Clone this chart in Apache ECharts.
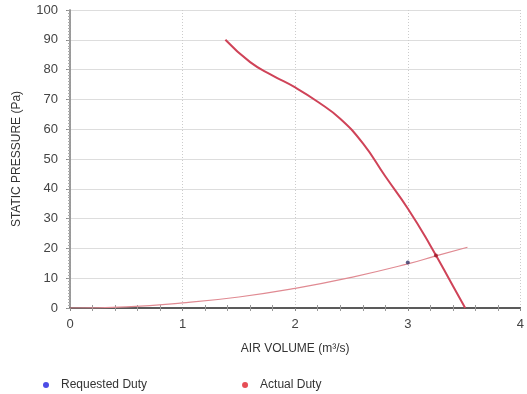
<!DOCTYPE html>
<html lang="en">
<head>
  <meta charset="UTF-8">
  <title>Fan curve</title>
  <script src="https://cdn.jsdelivr.net/npm/echarts@6/dist/echarts.min.js"></script>
  <style>
    html, body { margin: 0; padding: 0; background: #fff; }
    #chart { width: 527px; height: 394px; }
  </style>
</head>
<body>
  <div id="chart"></div>
  <script type="text/javascript">
    // fan curve: air volume (m3/s) vs static pressure (Pa)
    const fanVolume   = [1.38, 1.6, 1.8, 2.0, 2.2, 2.4, 2.6, 2.8, 3.0, 3.2, 3.4, 3.51];
    const fanPressure = [90, 82.5, 78, 74, 69.2, 63.5, 55.3, 44.2, 33.4, 21, 7.5, 0];

    // system resistance curve
    const sysVolume   = [0, 0.5, 1.0, 1.5, 2.0, 2.5, 3.0, 3.25, 3.53];
    const sysPressure = [0, 0.4, 1.7, 3.7, 6.6, 10.3, 14.8, 17.5, 20.4];

    const requestedDuty = [3.0, 15.3];
    const actualDuty = [3.25, 17.6];

    const xTicks = [0, 4, 1];   // min, max, interval
    const yTicks = [0, 100, 10];

    const chart = echarts.init(document.getElementById('chart'));

    const labelFont = { fontFamily: 'Liberation Sans, Arial, sans-serif', color: '#444', fontSize: 13 };

    const option = {
      animation: false,
      grid: { left: 70, right: 4, top: 10, bottom: 86 },
      xAxis: [{
        type: 'value',
        min: xTicks[0], max: xTicks[1], interval: xTicks[2],
        name: 'AIR VOLUME (m³/s)',
        nameLocation: 'middle',
        nameGap: 35,
        nameTextStyle: { ...labelFont, fontSize: 12, color: '#333' },
        axisLine: { lineStyle: { color: '#888', width: 1.5 } },
        axisTick: { length: 3, lineStyle: { color: '#888' } },
        minorTick: { show: true, splitNumber: 5, length: 3, lineStyle: { color: '#999' } },
        axisLabel: { ...labelFont, margin: 10 },
        splitLine: { lineStyle: { color: '#ccc', type: [1, 2] } },
      }, {
        type: 'value',
        position: 'top',
        min: xTicks[0], max: xTicks[1], interval: xTicks[2],
        axisLine: { lineStyle: { color: '#444', width: 1.5 } },
        axisTick: { show: false },
        minorTick: { show: true, splitNumber: 5, length: 3, lineStyle: { color: '#999' } },
        axisLabel: { show: false },
        splitLine: { show: false },
      }],
      yAxis: [{
        type: 'value',
        min: yTicks[0], max: yTicks[1], interval: yTicks[2],
        name: 'STATIC PRESSURE (Pa)',
        nameLocation: 'middle',
        nameGap: 47,
        nameTextStyle: { ...labelFont, fontSize: 12, color: '#333' },
        axisLine: { show: true, lineStyle: { color: '#888', width: 1.5 } },
        axisTick: { show: true, length: 4, lineStyle: { color: '#888' } },
        minorTick: { show: true, splitNumber: 10, length: 2, lineStyle: { color: '#999' } },
        axisLabel: { ...labelFont, margin: 12 },
        splitLine: { lineStyle: { color: '#ddd' } },
      }, {
        type: 'value',
        position: 'right',
        min: yTicks[0], max: yTicks[1], interval: yTicks[2],
        axisLine: { show: true, lineStyle: { color: '#999', width: 1.5 } },
        axisTick: { show: true, inside: true, length: 3, lineStyle: { color: '#999' } },
        minorTick: { show: true, splitNumber: 10, length: 2, lineStyle: { color: '#aaa' } },
        axisLabel: { show: false },
        splitLine: { show: false },
      }],
      legend: {
        left: 38,
        top: 374,
        itemWidth: 20,
        itemHeight: 6,
        itemGap: 95,
        icon: 'circle',
        textStyle: { ...labelFont, color: '#333', fontSize: 12 },
        data: [
          { name: 'Requested Duty', itemStyle: { color: '#1f1fe0' } },
          { name: 'Actual Duty', itemStyle: { color: '#e0202a' } },
        ],
      },
      series: [{
        name: 'System',
        type: 'line',
        smooth: true,
        symbol: 'none',
        data: sysVolume.map((v, i) => [v, sysPressure[i]]),
        lineStyle: { color: '#e08a92', width: 1.2 },
        z: 2,
      }, {
        name: 'Fan',
        type: 'line',
        smooth: true,
        symbol: 'none',
        data: fanVolume.map((v, i) => [v, fanPressure[i]]),
        lineStyle: { color: '#cf4358', width: 2 },
        z: 3,
      }, {
        name: 'Requested Duty',
        type: 'scatter',
        symbolSize: 4,
        data: [requestedDuty],
        itemStyle: { color: '#333366' },
        z: 4,
      }, {
        name: 'Actual Duty',
        type: 'scatter',
        symbolSize: 4,
        data: [actualDuty],
        itemStyle: { color: '#a01828' },
        z: 4,
      }],
    };
    chart.setOption(option);
  </script>
</body>
</html>
